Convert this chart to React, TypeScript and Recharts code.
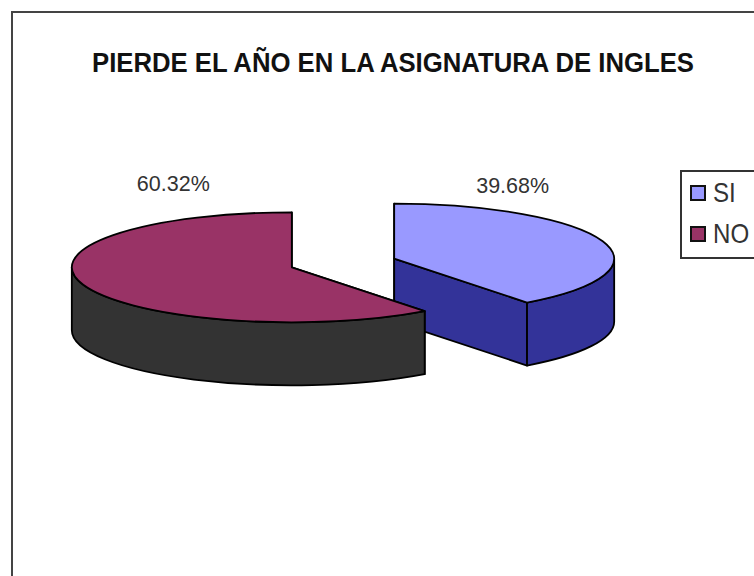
import { PieChart, Pie, Legend } from 'recharts';

const categories = ['SI', 'NO'];
const shares = [39.68, 60.32];
const topColors = ['#9999ff', '#993366'];
const sideColors = ['#333399', '#333333'];
const title = 'PIERDE EL AÑO EN LA ASIGNATURA DE INGLES';

const FONT = '"Liberation Sans", Arial, sans-serif';
const SQUASH = 0.25;
const DEPTH = 63;
const EXPLODE = 54;
const RADIUS = 220;
const LABEL_Y = [193, 191];

const tableData = categories.map((name, i) => ({
  name,
  value: shares[i],
  fill: topColors[i],
  side: sideColors[i],
}));

const rad = (deg: number) => (deg * Math.PI) / 180;

// centre of a slice once it is pulled out along its bisector
function sliceCentre(cx: number, cy: number, midAngle: number) {
  return {
    x: cx + EXPLODE * Math.cos(rad(midAngle)),
    y: cy - EXPLODE * SQUASH * Math.sin(rad(midAngle)),
  };
}

// Excel style flattened pie slice with a side wall
function Slice3D(props: any) {
  const { cx, cy, startAngle, endAngle, outerRadius, fill, payload } = props;
  const mid = (startAngle + endAngle) / 2;
  const c = sliceCentre(cx, cy, mid);
  const rx = outerRadius;
  const ry = outerRadius * SQUASH;
  const at = (a: number) => ({ x: c.x + rx * Math.cos(rad(a)), y: c.y - ry * Math.sin(rad(a)) });
  const p0 = at(startAngle);
  const p1 = at(endAngle);
  const large = startAngle - endAngle > 180 ? 1 : 0;
  const side = payload.side ?? props.side;

  const top = `M${c.x},${c.y} L${p0.x},${p0.y} A${rx},${ry} 0 ${large} 1 ${p1.x},${p1.y} Z`;
  const radial = (p: { x: number; y: number }) =>
    `M${c.x},${c.y} L${p.x},${p.y} L${p.x},${p.y + DEPTH} L${c.x},${c.y + DEPTH} Z`;

  // outer wall is only visible on the front half of the ellipse
  const a0 = Math.min(startAngle, 0);
  const a1 = Math.max(endAngle, -180);
  const w0 = at(a0);
  const w1 = at(a1);
  const wall =
    `M${w0.x},${w0.y} A${rx},${ry} 0 0 1 ${w1.x},${w1.y} L${w1.x},${w1.y + DEPTH} ` +
    `A${rx},${ry} 0 0 0 ${w0.x},${w0.y + DEPTH} Z`;

  const line = { stroke: '#000', strokeWidth: 1.8, strokeLinejoin: 'round' as const };
  return (
    <g>
      <path d={radial(p0)} fill={side} {...line} />
      <path d={radial(p1)} fill={side} {...line} />
      <path d={wall} fill={side} {...line} />
      <path d={top} fill={fill} {...line} />
    </g>
  );
}

function sliceLabel(props: any) {
  const { cx, cy, midAngle, percent, index } = props;
  const c = sliceCentre(cx, cy, midAngle);
  const x = c.x + 125 * Math.cos(rad(midAngle));
  return (
    <text x={x} y={LABEL_Y[index]} textAnchor="middle" fontFamily={FONT} fontSize={21.5} fill="#333">
      {`${(percent * 100).toFixed(2)}%`}
    </text>
  );
}

function LegendBox({ payload }: any) {
  return (
    <div
      style={{
        boxSizing: 'border-box',
        width: 90,
        height: 89,
        border: '2px solid #333',
        background: '#fff',
        fontFamily: FONT,
        fontSize: 28,
        color: '#333',
      }}
    >
      {(payload ?? []).map((item: any) => (
        <div key={item.value} style={{ display: 'flex', alignItems: 'center', height: 41.5, paddingLeft: 8 }}>
          <span
            style={{
              boxSizing: 'border-box',
              width: 16,
              height: 16,
              marginRight: 7,
              background: item.color,
              border: '2px solid #111',
            }}
          />
          <span style={{ display: 'inline-block', transform: 'scaleX(0.86)', transformOrigin: 'left center' }}>
            {item.value}
          </span>
        </div>
      ))}
    </div>
  );
}

export default function App() {
  return (
    <div style={{ position: 'absolute', left: 0, top: 0, width: 754, height: 576, overflow: 'hidden', background: '#fff' }}>
      <div
        style={{
          position: 'absolute',
          left: 11,
          top: 11,
          width: 800,
          height: 600,
          borderLeft: '2px solid #444',
          borderTop: '2px solid #444',
        }}
      />
      <div style={{ position: 'absolute', left: 0, top: 0 }}>
        <PieChart width={754} height={576} margin={{ top: 0, right: 0, bottom: 0, left: 0 }}>
          <text
            x={393}
            y={72}
            textAnchor="middle"
            fontFamily={FONT}
            fontWeight="bold"
            fontSize={27}
            textLength={602}
            lengthAdjust="spacingAndGlyphs"
            fill="#111"
          >
            {title}
          </text>
          <Pie
            data={tableData}
            dataKey="value"
            nameKey="name"
            cx={343}
            cy={263}
            outerRadius={RADIUS}
            innerRadius={0}
            startAngle={90}
            endAngle={-270}
            paddingAngle={0}
            shape={Slice3D}
            label={sliceLabel}
            labelLine={false}
            isAnimationActive={false}
          />
          <Legend
            content={<LegendBox />}
            itemSorter={null}
            wrapperStyle={{ position: 'absolute', left: 680, top: 170, width: 90, height: 89 }}
          />
        </PieChart>
      </div>
    </div>
  );
}
